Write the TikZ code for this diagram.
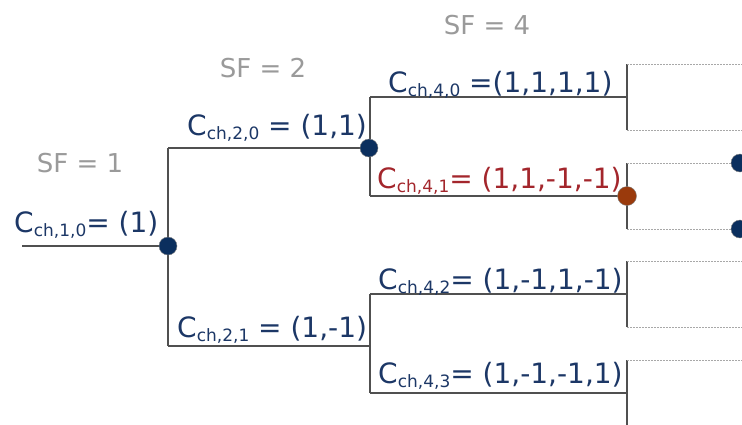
\documentclass[tikz,border=0pt]{standalone}
\usepackage{fontspec}
\setmainfont{DejaVu Sans}
\usetikzlibrary{arrows.meta}
\definecolor{wiregray}{HTML}{505050}
\definecolor{sparegray}{HTML}{A8A8A8}
\definecolor{sfgray}{HTML}{9A9A9A}
\definecolor{codenavy}{HTML}{1C3766}
\definecolor{codered}{HTML}{A3262C}
\definecolor{dotnavy}{HTML}{0B2F5E}
\definecolor{dotbrown}{HTML}{9A3A0C}
\newcommand{\cch}[1]{C{\fontsize{17}{17}\selectfont\raisebox{-4pt}{ch,#1}}}

\begin{document}
\begin{tikzpicture}[x=1pt,y=-1pt,>=Stealth,
  wire/.style={draw=wiregray,line width=1.7pt},
  spare/.style={draw=sparegray,line width=0.9pt,dash pattern=on 2pt off 1pt},
  navydot/.style={circle,fill=dotnavy,draw=black!50,line width=0.4pt,minimum size=18pt,inner sep=0pt},
  browndot/.style={navydot,fill=dotbrown,minimum size=19pt},
  code/.style={font=\fontsize{28}{32}\selectfont,text=codenavy,inner sep=0pt,anchor=base west},
  sf/.style={font=\fontsize{26}{30}\selectfont,text=sfgray,inner sep=0pt}]
            \useasboundingbox (0,0) rectangle (742,424);
            % junctions
            \coordinate (in) at (22,246);
            \coordinate (j10) at (168,246);
            \coordinate (b20) at (168,148);
            \coordinate (b21) at (168,346);
            \coordinate (j20) at (369,148);
            \coordinate (j21) at (370,346);
            \coordinate (b40) at (370,97);
            \coordinate (b41) at (370,196);
            \coordinate (b42) at (370,294);
            \coordinate (b43) at (370,393);
            \coordinate (e40) at (627,97);
            \coordinate (e41) at (627,196);
            \coordinate (e42) at (627,294);
            \coordinate (e43) at (627,393);
            % tree
            \draw [wire] (in) -- (j10);
            \draw [wire] (b20) -- (b21);
            \draw [wire] (b20) -- (j20);
            \draw [wire] (b21) -- (j21);
            \draw [wire] (b40) -- (b41);
            \draw [wire] (b42) -- (b43);
            \draw [wire] (b40) -- (e40);
            \draw [wire] (b41) -- (e41);
            \draw [wire] (b42) -- (e42);
            \draw [wire] (b43) -- (e43);
            % next stage (SF = 8)
            \foreach \n/\y in {40/97,41/196,42/294,43/393}{
              \coordinate (u\n) at (627,\y-33);
              \coordinate (v\n) at (627,\y+33);
              \draw [wire] (u\n) -- (v\n);
              \draw [spare] (u\n) -- ++(120,0);
              \draw [spare] (v\n) -- ++(120,0);
            }
            \node [navydot] (d10) at (j10) {};
            \node [navydot] (d20) at (j20) {};
            \node [browndot] (d41) at (e41) {};
            \node [navydot] (d80) at (740,163) {};
            \node [navydot] (d81) at (740,229) {};
            % labels
            \node [sf] (sf1) at (80,163) {SF = 1};
            \node [sf] (sf2) at (263,68) {SF = 2};
            \node [sf] (sf4) at (487,25) {SF = 4};
            \node [code] (c10) at (14,232) {\cch{1,0}= (1)};
            \node [code] (c20) at (187,135) {\cch{2,0} = (1,1)};
            \node [code] (c21) at (177,337) {\cch{2,1} = (1,-1)};
            \node [code] (c40) at (388,92) {\cch{4,0} =(1,1,1,1)};
            \node [code,text=codered] (c41) at (377,188) {\cch{4,1}= (1,1,-1,-1)};
            \node [code] (c42) at (378,289) {\cch{4,2}= (1,-1,1,-1)};
            \node [code] (c43) at (378,383) {\cch{4,3}= (1,-1,-1,1)};
        \end{tikzpicture}
\end{document}
